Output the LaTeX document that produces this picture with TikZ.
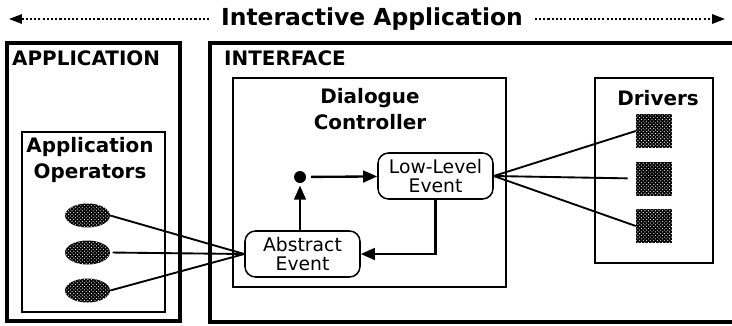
\documentclass[tikz,border=0pt]{standalone}
\usepackage{fontspec}
\setmainfont{DejaVu Sans}
\usetikzlibrary{positioning,arrows.meta,shapes.geometric,patterns}

\tikzset{
  outerbox/.style={line width=2.8pt},
  innerbox/.style={line width=1.3pt},
  boxtitle/.style={font=\bfseries\fontsize{17}{22}\selectfont, inner sep=0pt, align=center},
  eventbox/.style={draw, line width=1.3pt, rounded corners=9pt, align=center,
    font=\fontsize{16}{15.5}\selectfont, minimum width=3.45cm, minimum height=1.38cm, inner sep=1pt},
  opnode/.style={ellipse, fill=black, minimum width=1.35cm, minimum height=0.72cm, inner sep=0pt,
    postaction={pattern=crosshatch dots, pattern color=white}},
  drvnode/.style={rectangle, fill=black, minimum width=1.08cm, minimum height=1.02cm, inner sep=0pt,
    postaction={pattern=crosshatch dots, pattern color=white}},
  link/.style={line width=1.6pt},
  flow/.style={line width=2pt, -{Triangle[length=12pt, width=10pt]}},
  dotline/.style={line width=1.5pt, dash pattern=on 1.8pt off 1.8pt, -{Triangle[length=11pt, width=8pt]}}
}

\begin{document}
\begin{tikzpicture}[x=0.03cm, y=-0.03cm]
\useasboundingbox (0,0) rectangle (732,325);
% ---- headline ----
\node[font=\bfseries\fontsize{20}{21}\selectfont, inner xsep=10pt] (title) at (372,19) {Interactive Application};
\coordinate (leftend) at (9,19);
\coordinate (rightend) at (725,19);
\draw[dotline] (title.west) -- (leftend);
\draw[dotline] (title.east) -- (rightend);
% ---- application side ----
\draw[outerbox] (7,43) rectangle (180,321);
\node[boxtitle, anchor=west] (apptitle) at (12,58) {APPLICATION};
\draw[innerbox] (22,132) rectangle (165,312);
\node[boxtitle, anchor=north] (optitle) at (90,137) {Application\\Operators};
\node[opnode] (op1) at (87.5,215.5) {};
\node[opnode] (op2) at (87.5,252.5) {};
\node[opnode] (op3) at (87.5,290.5) {};
% ---- interface side ----
\draw[outerbox] (732,43) -- (210,43) -- (210,322) -- (732,322);
\node[boxtitle, anchor=west] (iftitle) at (224,58) {INTERFACE};
\draw[innerbox] (233,78) rectangle (506,287);
\node[boxtitle, anchor=north] (dctitle) at (370,88) {Dialogue\\Controller};
\node[eventbox] (low) at (435.5,176) {Low-Level\\Event};
\node[eventbox] (abs) at (302.5,254) {Abstract\\Event};
\node[circle, fill=black, minimum size=0.36cm, inner sep=0pt] (dot) at (300,177) {};
\draw[flow, shorten <=4pt] (dot) -- (low);
\draw[flow, shorten >=2pt] (abs.north -| dot) -- (dot.south);
\draw[flow] (low.south) |- (abs.east);
% drivers
\draw[innerbox] (595,78) rectangle (713,263);
\node[boxtitle] (drvtitle) at (658,98) {Drivers};
\node[drvnode] (drv1) at (654,131) {};
\node[drvnode] (drv2) at (654,178.5) {};
\node[drvnode] (drv3) at (654,226) {};
% ---- links ----
\draw[link] (op1.east) -- (abs.west);
\draw[link, shorten <=2pt] (op2.east) -- (abs.west);
\draw[link] (op3.east) -- (abs.west);
\draw[link] (low.east) -- (drv1.west);
\draw[link, shorten >=7pt] (low.east) -- (drv2.west);
\draw[link] (low.east) -- (drv3.west);
\end{tikzpicture}
\end{document}
